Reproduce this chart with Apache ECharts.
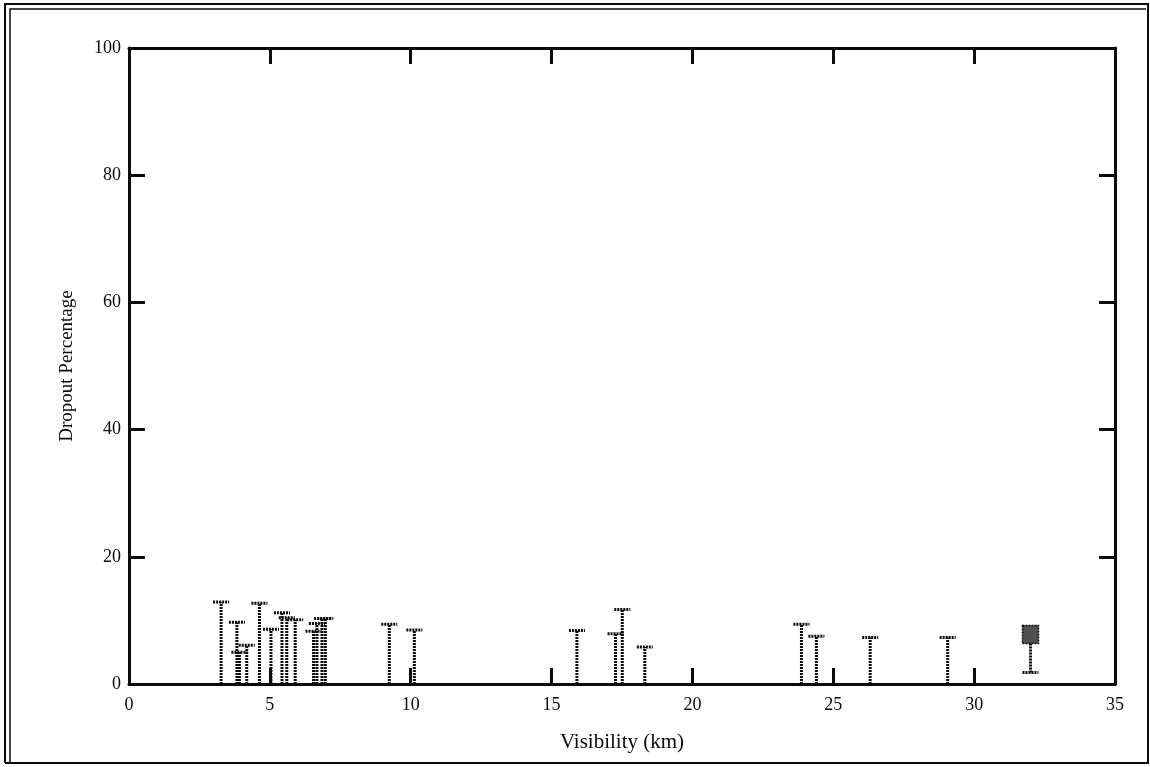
<!DOCTYPE html>
<html>
<head>
<meta charset="utf-8">
<script src="https://cdn.jsdelivr.net/npm/echarts@6/dist/echarts.min.js"></script>
<style>
  html, body { margin: 0; padding: 0; background: #fff; }
  #chart { width: 1150px; height: 767px; }
</style>
</head>
<body>
<div id="chart"></div>
<script>
// Visibility (km) of each run and the upper end of its dropout range (%)
const visibility = [3.27, 3.83, 3.92, 4.18, 4.63, 5.04, 5.43, 5.60, 5.90, 6.55, 6.67, 6.85, 6.97, 9.24, 10.13, 15.9, 17.27, 17.51, 18.31, 23.87, 24.4, 26.31, 29.06];
const dropoutLow = [0, 0, 0, 0, 0, 0, 0, 0, 0, 0, 0, 0, 0, 0, 0, 0, 0, 0, 0, 0, 0, 0, 0];
const dropoutHigh = [12.9, 9.7, 5.0, 6.1, 12.7, 8.6, 11.2, 10.4, 10.1, 8.3, 9.5, 10.3, 10.3, 9.4, 8.5, 8.4, 7.9, 11.7, 5.8, 9.4, 7.5, 7.3, 7.3];

// Summary point: mean dropout with its lower whisker
const meanVisibility = [32.0];
const meanDropout = [7.8];
const meanLow = [1.8];

const xTicks = [0, 5, 10, 15, 20, 25, 30, 35];
const yTicks = [0, 20, 40, 60, 80, 100];

const font = '"Liberation Serif", "DejaVu Serif", serif';
const ink = '#0a0a0a';

const rangeData = visibility.map((v, i) => [v, dropoutLow[i], dropoutHigh[i]]);
const meanData = meanVisibility.map((v, i) => [v, meanDropout[i], meanLow[i]]);

const barStyle = { stroke: ink, lineWidth: 3, lineDash: [2, 1] };

function renderRange(params, api) {
  const x = api.value(0);
  const lo = api.coord([x, api.value(1)]);
  const hi = api.coord([x, api.value(2)]);
  const half = 8;
  return {
    type: 'group',
    children: [
      { type: 'line', shape: { x1: lo[0], y1: lo[1], x2: hi[0], y2: hi[1] }, style: barStyle },
      { type: 'line', shape: { x1: hi[0] - half, y1: hi[1], x2: hi[0] + half, y2: hi[1] }, style: barStyle }
    ]
  };
}

function renderMean(params, api) {
  const x = api.value(0);
  const c = api.coord([x, api.value(1)]);
  const lo = api.coord([x, api.value(2)]);
  const w = 16, h = 18;
  return {
    type: 'group',
    children: [
      { type: 'line', shape: { x1: lo[0], y1: lo[1], x2: c[0], y2: c[1] }, style: barStyle },
      { type: 'line', shape: { x1: lo[0] - 8, y1: lo[1], x2: lo[0] + 8, y2: lo[1] }, style: barStyle },
      { type: 'rect', shape: { x: c[0] - w / 2, y: c[1] - h / 2, width: w, height: h },
        style: { fill: '#505050', stroke: ink, lineWidth: 1.5, lineDash: [2, 1] } }
    ]
  };
}

const axisLine = { show: true, onZero: false, lineStyle: { color: ink, width: 3 } };
const axisTick = { show: true, inside: true, length: 16, lineStyle: { color: ink, width: 3 } };

const chart = echarts.init(document.getElementById('chart'), null, { renderer: 'canvas' });
chart.setOption({
  animation: false,
  backgroundColor: '#fff',
  grid: { left: 129, right: 35, top: 48, bottom: 83, containLabel: false },
  xAxis: [
    {
      type: 'value', position: 'bottom', min: 0, max: 35, interval: 5,
      axisLine, axisTick, splitLine: { show: false },
      axisLabel: { color: ink, fontFamily: font, fontSize: 18, margin: 12,
        formatter: v => xTicks.includes(v) ? String(v) : '' },
      name: 'Visibility (km)', nameLocation: 'middle', nameGap: 48,
      nameTextStyle: { color: ink, fontFamily: font, fontSize: 21 }
    },
    {
      type: 'value', position: 'top', min: 0, max: 35, interval: 5,
      axisLine, axisTick, splitLine: { show: false }, axisLabel: { show: false }
    }
  ],
  yAxis: [
    {
      type: 'value', position: 'left', min: 0, max: 100, interval: 20,
      axisLine, axisTick, splitLine: { show: false },
      axisLabel: { color: ink, fontFamily: font, fontSize: 18, margin: 8,
        formatter: v => yTicks.includes(v) ? String(v) : '' },
      name: 'Dropout Percentage', nameLocation: 'middle', nameGap: 52,
      nameTextStyle: { color: ink, fontFamily: font, fontSize: 19 }
    },
    {
      type: 'value', position: 'right', min: 0, max: 100, interval: 20,
      axisLine, axisTick, splitLine: { show: false }, axisLabel: { show: false }
    }
  ],
  series: [
    { type: 'custom', xAxisIndex: 0, yAxisIndex: 0, renderItem: renderRange, data: rangeData,
      encode: { x: 0, y: [1, 2] }, z: 3 },
    { type: 'custom', xAxisIndex: 0, yAxisIndex: 0, renderItem: renderMean, data: meanData,
      encode: { x: 0, y: [1, 2] }, z: 4 }
  ],
  graphic: [
    // double frame round the figure
    { type: 'polyline', shape: { points: [[5, 763], [5, 4], [1148, 4], [1148, 763], [5, 763]] },
      style: { stroke: ink, lineWidth: 2, fill: null }, silent: true },
    { type: 'polyline', shape: { points: [[10, 762], [10, 9], [1146, 9]] },
      style: { stroke: ink, lineWidth: 1.5, fill: null }, silent: true }
  ]
});
</script>
</body>
</html>
